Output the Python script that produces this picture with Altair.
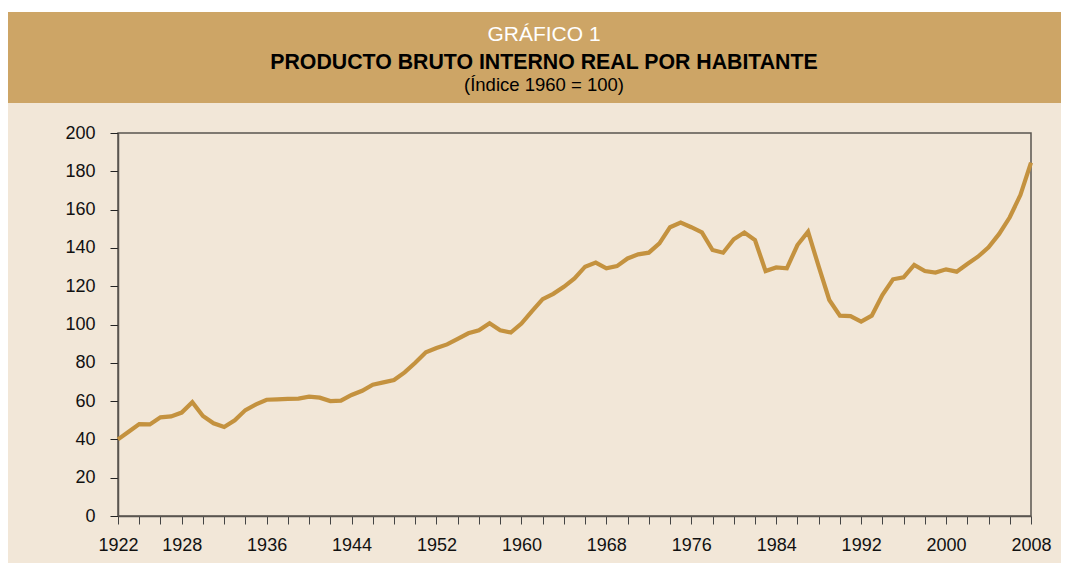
import altair as alt
import pandas as pd

# ---- data ----
years = list(range(1922, 2009))
values = [
    40.0, 44.0, 48.0, 47.8, 51.5, 52.0, 54.0, 59.4, 52.2, 48.4,   # 1922-1931
    46.5, 50.0, 55.3, 58.3, 60.7, 60.9, 61.2, 61.3, 62.3, 61.8,   # 1932-1941
    60.0, 60.2, 63.2, 65.4, 68.6, 69.8, 71.0, 75.0, 80.0, 85.5,   # 1942-1951
    87.7, 89.6, 92.5, 95.4, 97.0, 100.6, 97.0, 95.8, 100.5, 107.0,  # 1952-1961
    113.2, 116.0, 119.7, 124.1, 130.2, 132.3, 129.3, 130.5, 134.5, 136.6,  # 1962-1971
    137.5, 142.4, 150.8, 153.2, 150.8, 148.1, 138.9, 137.5, 144.5, 148.0,  # 1972-1981
    144.1, 127.9, 129.8, 129.3, 141.5, 148.5, 130.3, 112.8, 104.6, 104.4,  # 1982-1991
    101.5, 104.6, 115.4, 123.6, 124.6, 131.1, 127.9, 127.1, 128.8, 127.6,  # 1992-2001
    131.6, 135.4, 140.3, 147.3, 156.0, 167.6, 184.5,                       # 2002-2008
]
x_tick_values = list(range(1922, 2009, 2))
x_label_values = [1922, 1928, 1936, 1944, 1952, 1960, 1968, 1976, 1984, 1992, 2000, 2008]
y_tick_values = list(range(0, 201, 20))

title_top = ["GRÁFICO 1"]
title_main = ["PRODUCTO BRUTO INTERNO REAL POR HABITANTE"]
title_sub = ["(Índice 1960 = 100)"]

df = pd.DataFrame({"year": years, "value": values})

# ---- layout ----
W, H = 913, 383
PAD_L, PAD_T, PAD_R, PAD_B = 110, 125, 30, 47
BAND = "#CDA566"
BG = "#F2E7D8"
LINE = "#C4923F"
AXIS = "#5a554f"
FONT = "Liberation Sans"
TX = 426

one = pd.DataFrame({"k": [0]})

white_strip = alt.Chart(one).mark_rect(color="white").encode(
    x=alt.value(-PAD_L), x2=alt.value(W + PAD_R), y=alt.value(-PAD_T), y2=alt.value(-121)
)
band = alt.Chart(one).mark_rect(color=BAND).encode(
    x=alt.value(-PAD_L), x2=alt.value(W + PAD_R), y=alt.value(-121), y2=alt.value(-30)
)
t1 = alt.Chart(pd.DataFrame({"t": title_top})).mark_text(
    font=FONT, fontSize=21, color="white", align="center", baseline="alphabetic"
).encode(x=alt.value(TX), y=alt.value(-92), text="t:N")
t2 = alt.Chart(pd.DataFrame({"t": title_main})).mark_text(
    font=FONT, fontSize=21.3, fontWeight="bold", color="black", align="center", baseline="alphabetic"
).encode(x=alt.value(TX), y=alt.value(-64), text="t:N")
t3 = alt.Chart(pd.DataFrame({"t": title_sub})).mark_text(
    font=FONT, fontSize=18.5, color="black", align="center", baseline="alphabetic"
).encode(x=alt.value(TX), y=alt.value(-42), text="t:N")

label_test = " || ".join(f"datum.value == {v}" for v in x_label_values)

line = alt.Chart(df).mark_line(color=LINE, strokeWidth=4.2).encode(
    x=alt.X(
        "year:Q",
        scale=alt.Scale(domain=[1922, 2008], nice=False, zero=False),
        axis=alt.Axis(
            values=x_tick_values, format="d", labelExpr=f"({label_test}) ? datum.label : ''",
            title=None, grid=False, tickSize=8, tickColor="#444", tickWidth=1,
            labelFontSize=18, labelFont=FONT, labelColor="#111", labelPadding=12,
            labelOverlap=False, labelFlush=False, domainColor=AXIS, domainWidth=1.5,
        ),
    ),
    y=alt.Y(
        "value:Q",
        scale=alt.Scale(domain=[0, 200], nice=False),
        axis=alt.Axis(
            values=y_tick_values, title=None, grid=False, tickSize=8, tickColor="#222",
            tickWidth=1, labelFontSize=18, labelFont=FONT, labelColor="#111",
            labelPadding=15, domainColor=AXIS, domainWidth=1.5,
        ),
    ),
)

chart = alt.layer(white_strip, band, t1, t2, t3, line).properties(
    width=W, height=H,
    autosize=alt.AutoSizeParams(type="none"),
    padding={"left": PAD_L, "top": PAD_T, "right": PAD_R, "bottom": PAD_B},
    background=BG,
).configure_view(stroke=AXIS, strokeWidth=1.5)

chart.save("out.html", embed_options={"renderer": "svg", "actions": False})
